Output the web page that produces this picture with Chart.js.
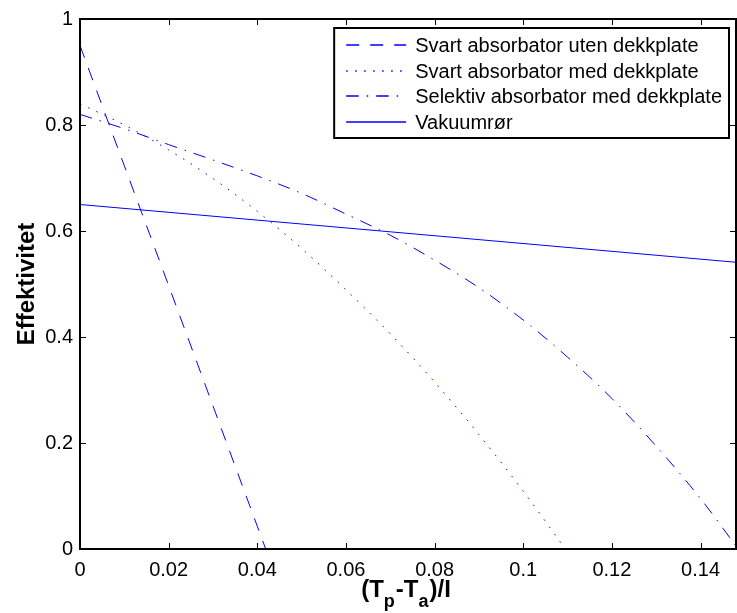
<!DOCTYPE html>
<html>
<head>
<meta charset="utf-8">
<script src="https://cdn.jsdelivr.net/npm/chart.js@4/dist/chart.umd.min.js"></script>
<style>
  html, body { margin: 0; padding: 0; background: #fff; }
  #c { display: block; }
</style>
</head>
<body>
<canvas id="c" width="737" height="613"></canvas>
<script>
// ---- data ----
const seriesLabels = [
  'Svart absorbator uten dekkplate',
  'Svart absorbator med dekkplate',
  'Selektiv absorbator med dekkplate',
  'Vakuumrør'
];
const xUten = [0, 0.01, 0.02, 0.03, 0.04, 0.0419];
const yUten = [0.95, 0.723, 0.497, 0.27, 0.043, 0];

const xMed = [0, 0.01, 0.02, 0.03, 0.04, 0.05, 0.06, 0.07, 0.08, 0.09, 0.10, 0.1095];
const yMed = [0.84, 0.80, 0.753, 0.699, 0.637, 0.567, 0.489, 0.406, 0.315, 0.216, 0.109, 0];

const xSel = [0, 0.01, 0.02, 0.03, 0.04, 0.05, 0.06, 0.07, 0.08, 0.09, 0.10, 0.11, 0.12, 0.13, 0.14, 0.1485];
const ySel = [0.82, 0.793, 0.763, 0.734, 0.704, 0.671, 0.632, 0.592, 0.545, 0.493, 0.432, 0.362, 0.284, 0.194, 0.095, 0];

const xVak = [0, 0.148];
const yVak = [0.65, 0.541];

const xTicks = [0, 0.02, 0.04, 0.06, 0.08, 0.10, 0.12, 0.14];
const xTickLabels = ['0', '0.02', '0.04', '0.06', '0.08', '0.1', '0.12', '0.14'];
const yTicks = [0, 0.2, 0.4, 0.6, 0.8, 1];
const yTickLabels = ['0', '0.2', '0.4', '0.6', '0.8', '1'];
const xMax = 0.148;
const yAxisTitle = 'Effektivitet';
// x title parts: [text, isSubscript]
const xTitleParts = [['(T', false], ['p', true], ['-T', false], ['a', true], [')/I', false]];

// ---- build ----
const pts = (xs, ys) => xs.map((v, i) => ({ x: v, y: ys[i] }));
const BLUE = '#0000ff';
const FONT = "'Liberation Sans', Arial, sans-serif";
const dashes = [[13, 11], [1.5, 7.5], [12.5, 8, 1.5, 8], []];

const datasets = [
  { label: seriesLabels[0], data: pts(xUten, yUten) },
  { label: seriesLabels[1], data: pts(xMed, yMed) },
  { label: seriesLabels[2], data: pts(xSel, ySel) },
  { label: seriesLabels[3], data: pts(xVak, yVak) }
].map((d, i) => Object.assign(d, {
  borderColor: BLUE, backgroundColor: BLUE, borderWidth: 1,
  borderDash: dashes[i],
  pointRadius: 0, fill: false, cubicInterpolationMode: 'monotone'
}));

const framePlugin = {
  id: 'frame',
  afterDraw(chart) {
    const { ctx, chartArea: a, scales: { x, y } } = chart;
    ctx.save();
    // inward ticks on all four sides
    ctx.strokeStyle = '#000';
    ctx.lineWidth = 1;
    const TL = 6;
    x.ticks.forEach(t => {
      const px = Math.round(x.getPixelForValue(t.value)) + 0.5;
      ctx.beginPath();
      ctx.moveTo(px, a.bottom); ctx.lineTo(px, a.bottom - TL);
      ctx.moveTo(px, a.top); ctx.lineTo(px, a.top + TL);
      ctx.stroke();
    });
    y.ticks.forEach(t => {
      const py = Math.round(y.getPixelForValue(t.value)) + 0.5;
      ctx.beginPath();
      ctx.moveTo(a.left, py); ctx.lineTo(a.left + TL, py);
      ctx.moveTo(a.right, py); ctx.lineTo(a.right - TL, py);
      ctx.stroke();
    });
    // axes box
    ctx.lineWidth = 2;
    ctx.strokeRect(a.left, a.top, a.right - a.left, a.bottom - a.top);

    // legend box
    ctx.font = '20px ' + FONT;
    const labels = chart.data.datasets.map(d => d.label);
    const maxW = Math.max(...labels.map(l => ctx.measureText(l).width));
    const bw = 81 + maxW + 7;
    const bh = 110;
    const bx = a.right - 7 - bw;
    const by = a.top + 9;
    ctx.fillStyle = '#fff';
    ctx.fillRect(bx, by, bw, bh);
    ctx.lineWidth = 2;
    ctx.strokeStyle = '#000';
    ctx.strokeRect(bx, by, bw, bh);
    chart.data.datasets.forEach((d, i) => {
      const cy = Math.round(by + 17 + i * 25.5);
      ctx.save();
      ctx.strokeStyle = BLUE;
      ctx.lineWidth = 1.4;
      ctx.setLineDash(dashes[i]);
      ctx.beginPath();
      ctx.moveTo(bx + 12, cy); ctx.lineTo(bx + 72, cy);
      ctx.stroke();
      ctx.restore();
      ctx.fillStyle = '#000';
      ctx.textBaseline = 'middle';
      ctx.textAlign = 'left';
      ctx.font = '20px ' + FONT;
      ctx.fillText(d.label, bx + 81, cy + 1);
    });

    // x axis title with subscripts
    const mainFont = 'bold 24px ' + FONT;
    const subFont = 'bold 18px ' + FONT;
    let total = 0;
    const widths = xTitleParts.map(([t, sub]) => {
      ctx.font = sub ? subFont : mainFont;
      const w = ctx.measureText(t).width;
      total += w;
      return w;
    });
    let cx = (a.left + a.right) / 2 - total / 2 - 3;
    const base = a.bottom + 48;
    ctx.fillStyle = '#000';
    ctx.textBaseline = 'alphabetic';
    ctx.textAlign = 'left';
    xTitleParts.forEach(([t, sub], i) => {
      ctx.font = sub ? subFont : mainFont;
      ctx.fillText(t, cx, sub ? base + 10 : base);
      cx += widths[i] + (sub ? 1 : 0);
    });
    ctx.restore();
  }
};

new Chart(document.getElementById('c'), {
  type: 'line',
  data: { datasets },
  options: {
    responsive: false,
    animation: false,
    devicePixelRatio: 1,
    layout: { padding: { top: 16, right: 1, left: 0, bottom: 0 } },
    plugins: { legend: { display: false }, tooltip: { enabled: false } },
    scales: {
      x: {
        type: 'linear', min: 0, max: xMax,
        afterBuildTicks: s => { s.ticks = xTicks.map(v => ({ value: v })); },
        afterFit: s => { s.height = 64; },
        grid: { display: false, drawTicks: false },
        border: { display: false },
        ticks: {
          padding: 9, maxRotation: 0, autoSkip: false, color: '#000',
          font: { family: FONT, size: 20 },
          callback: (v, i) => xTickLabels[i]
        }
      },
      y: {
        type: 'linear', min: 0, max: 1,
        afterBuildTicks: s => { s.ticks = yTicks.map(v => ({ value: v })); },
        afterFit: s => { s.width = 80; },
        grid: { display: false, drawTicks: false },
        border: { display: false },
        ticks: {
          padding: 7, autoSkip: false, color: '#000',
          font: { family: FONT, size: 20 },
          callback: (v, i) => yTickLabels[i]
        },
        title: {
          display: true, text: yAxisTitle, color: '#000',
          font: { family: FONT, size: 24, weight: 'bold', lineHeight: 1.2 },
          padding: { top: 13, bottom: 0 }
        }
      }
    }
  },
  plugins: [framePlugin]
});
</script>
</body>
</html>
